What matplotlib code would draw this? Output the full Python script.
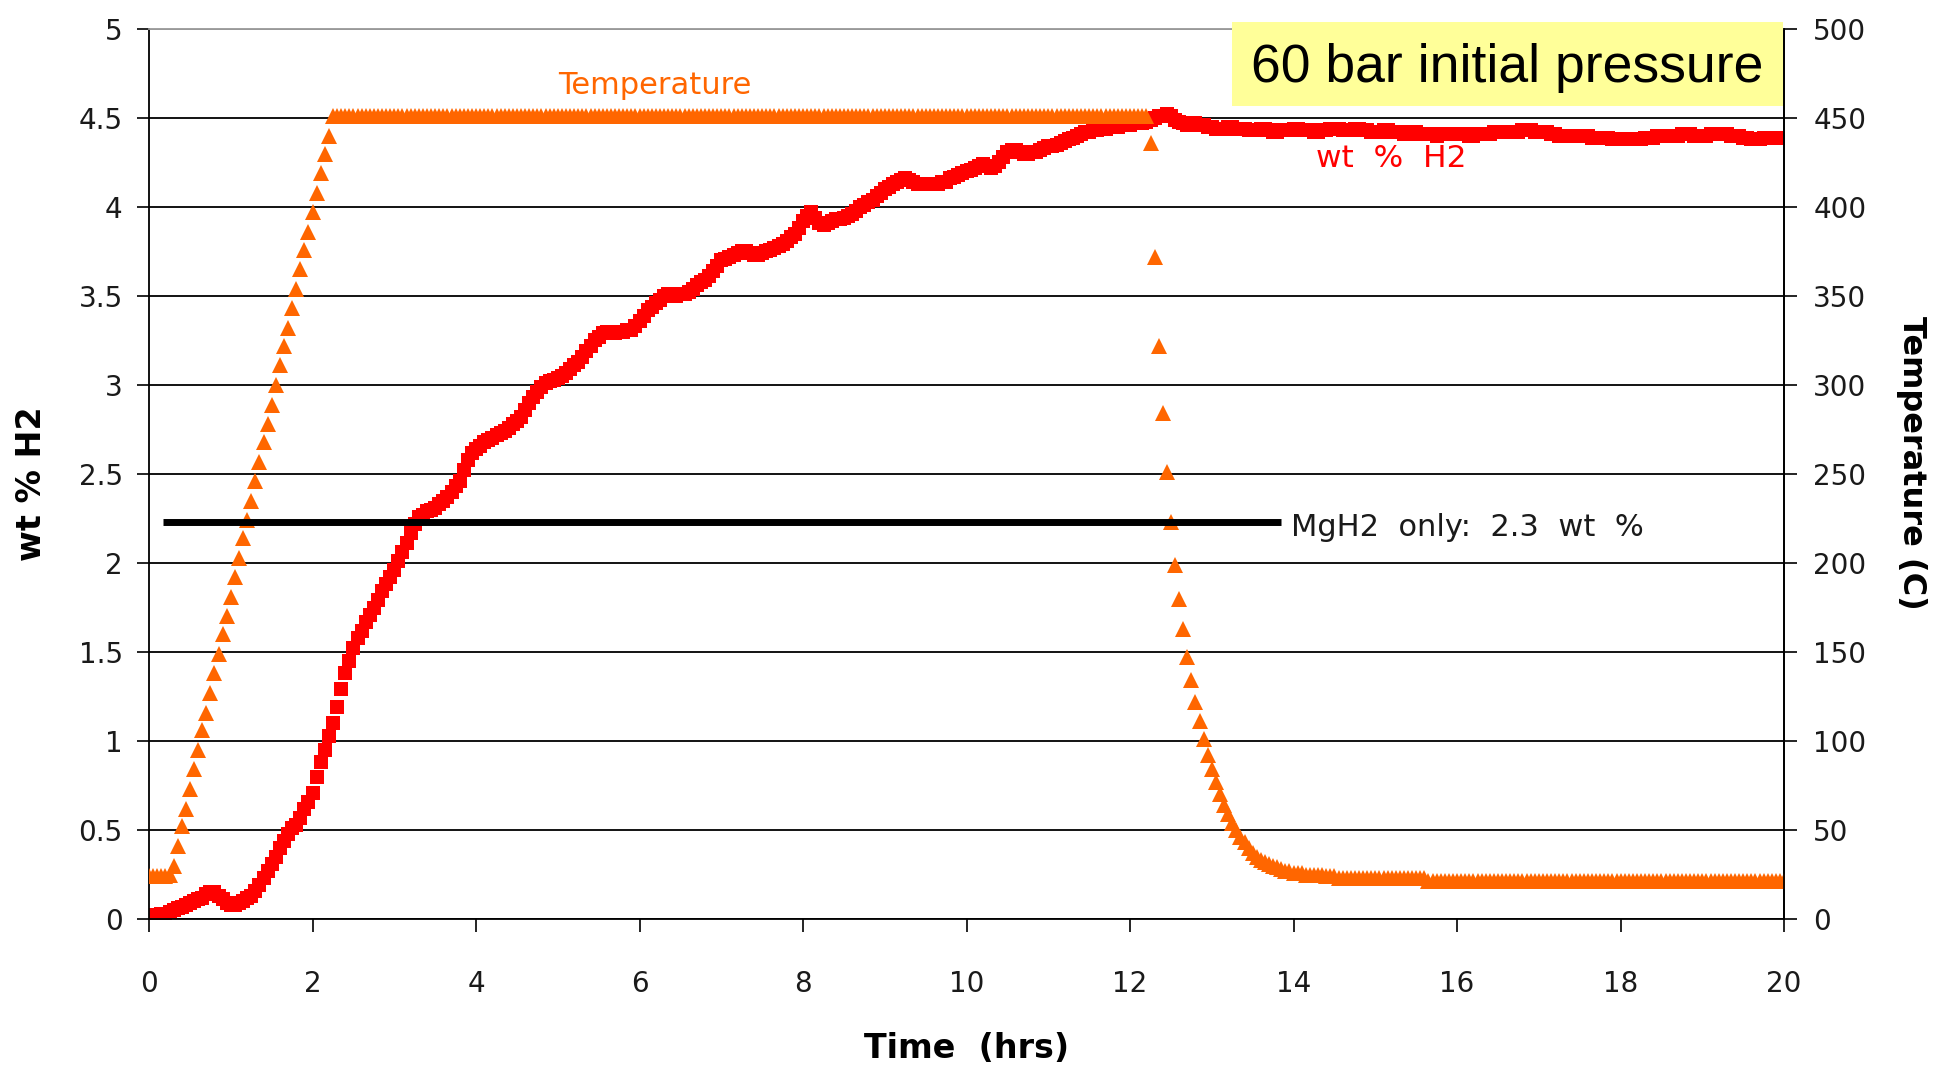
import matplotlib
matplotlib.use("Agg")
import matplotlib.pyplot as plt
from matplotlib.patches import Rectangle

# time axis: one reading every 0.05 hr (3 min), 0 .. 20 hr
time_hrs = [i * 0.05 for i in range(401)]

# wt % H2, one row per hour (20 readings), plus the final point at 20 hr
wt_h2 = [
    0.02, 0.02, 0.02, 0.03, 0.03, 0.04, 0.05, 0.06, 0.07, 0.08, 0.09, 0.10, 0.11, 0.12, 0.14, 0.15, 0.15, 0.13, 0.11, 0.09,
    0.08, 0.08, 0.09, 0.10, 0.12, 0.13, 0.16, 0.19, 0.23, 0.27, 0.31, 0.35, 0.40, 0.44, 0.48, 0.51, 0.53, 0.57, 0.62, 0.66,
    0.71, 0.80, 0.88, 0.95, 1.03, 1.10, 1.19, 1.29, 1.38, 1.45, 1.52, 1.58, 1.62, 1.67, 1.71, 1.75, 1.79, 1.84, 1.88, 1.92,
    1.96, 2.01, 2.06, 2.11, 2.17, 2.22, 2.26, 2.27, 2.29, 2.30, 2.31, 2.33, 2.35, 2.37, 2.40, 2.43, 2.46, 2.52, 2.58, 2.62,
    2.64, 2.66, 2.68, 2.69, 2.70, 2.72, 2.73, 2.74, 2.76, 2.78, 2.80, 2.82, 2.86, 2.90, 2.93, 2.96, 2.99, 3.01, 3.02, 3.03,
    3.04, 3.05, 3.07, 3.09, 3.11, 3.13, 3.16, 3.19, 3.22, 3.25, 3.27, 3.29, 3.30, 3.30, 3.29, 3.30, 3.30, 3.31, 3.31, 3.33,
    3.36, 3.39, 3.42, 3.44, 3.46, 3.48, 3.50, 3.51, 3.51, 3.50, 3.51, 3.51, 3.52, 3.54, 3.56, 3.58, 3.59, 3.61, 3.64, 3.67,
    3.70, 3.71, 3.72, 3.73, 3.74, 3.75, 3.75, 3.74, 3.73, 3.73, 3.74, 3.75, 3.76, 3.77, 3.78, 3.79, 3.81, 3.83, 3.85, 3.88,
    3.92, 3.95, 3.97, 3.94, 3.91, 3.90, 3.91, 3.92, 3.93, 3.93, 3.94, 3.95, 3.96, 3.98, 4.00, 4.01, 4.03, 4.04, 4.06, 4.08,
    4.10, 4.11, 4.13, 4.14, 4.15, 4.16, 4.15, 4.14, 4.13, 4.13, 4.13, 4.13, 4.13, 4.13, 4.14, 4.14, 4.16, 4.17, 4.18, 4.19,
    4.20, 4.21, 4.22, 4.23, 4.24, 4.23, 4.22, 4.23, 4.25, 4.28, 4.31, 4.32, 4.32, 4.31, 4.30, 4.30, 4.31, 4.31, 4.32, 4.33,
    4.34, 4.34, 4.35, 4.36, 4.37, 4.38, 4.39, 4.40, 4.41, 4.42, 4.42, 4.43, 4.43, 4.44, 4.44, 4.45, 4.45, 4.45, 4.46, 4.46,
    4.46, 4.47, 4.47, 4.47, 4.48, 4.49, 4.50, 4.51, 4.51, 4.52, 4.51, 4.49, 4.48, 4.47, 4.46, 4.47, 4.47, 4.46, 4.46, 4.45,
    4.45, 4.44, 4.44, 4.44, 4.45, 4.45, 4.44, 4.44, 4.44, 4.43, 4.43, 4.43, 4.44, 4.44, 4.43, 4.42, 4.42, 4.43, 4.43, 4.43,
    4.44, 4.44, 4.43, 4.43, 4.43, 4.42, 4.42, 4.43, 4.43, 4.44, 4.44, 4.44, 4.43, 4.43, 4.43, 4.44, 4.44, 4.43, 4.43, 4.42,
    4.42, 4.42, 4.43, 4.43, 4.42, 4.42, 4.42, 4.41, 4.41, 4.42, 4.42, 4.41, 4.41, 4.41, 4.41, 4.40, 4.41, 4.41, 4.41, 4.41,
    4.41, 4.41, 4.41, 4.40, 4.40, 4.41, 4.41, 4.41, 4.41, 4.42, 4.42, 4.42, 4.42, 4.42, 4.42, 4.42, 4.43, 4.43, 4.43, 4.42,
    4.42, 4.42, 4.42, 4.41, 4.41, 4.40, 4.40, 4.40, 4.40, 4.40, 4.40, 4.40, 4.40, 4.39, 4.39, 4.39, 4.39, 4.39, 4.38, 4.38,
    4.38, 4.38, 4.38, 4.38, 4.38, 4.38, 4.39, 4.39, 4.39, 4.40, 4.40, 4.40, 4.40, 4.40, 4.40, 4.41, 4.41, 4.41, 4.40, 4.40,
    4.40, 4.40, 4.41, 4.41, 4.41, 4.41, 4.41, 4.40, 4.40, 4.40, 4.39, 4.39, 4.38, 4.38, 4.38, 4.39, 4.39, 4.39, 4.39, 4.39,
    4.39,
]

# temperature (C), same sampling
temp_c = [
    24, 24, 24, 24, 24, 25, 30, 41, 52, 62, 73, 84, 95, 106, 116, 127, 138, 149, 160, 170,
    181, 192, 203, 214, 224, 235, 246, 257, 268, 278, 289, 300, 311, 322, 332, 343, 354, 365, 376, 386,
    397, 408, 419, 430, 440, 451, 451, 451, 451, 451, 451, 451, 451, 451, 451, 451, 451, 451, 451, 451,
    451, 451, 451, 451, 451, 451, 451, 451, 451, 451, 451, 451, 451, 451, 451, 451, 451, 451, 451, 451,
    451, 451, 451, 451, 451, 451, 451, 451, 451, 451, 451, 451, 451, 451, 451, 451, 451, 451, 451, 451,
    451, 451, 451, 451, 451, 451, 451, 451, 451, 451, 451, 451, 451, 451, 451, 451, 451, 451, 451, 451,
    451, 451, 451, 451, 451, 451, 451, 451, 451, 451, 451, 451, 451, 451, 451, 451, 451, 451, 451, 451,
    451, 451, 451, 451, 451, 451, 451, 451, 451, 451, 451, 451, 451, 451, 451, 451, 451, 451, 451, 451,
    451, 451, 451, 451, 451, 451, 451, 451, 451, 451, 451, 451, 451, 451, 451, 451, 451, 451, 451, 451,
    451, 451, 451, 451, 451, 451, 451, 451, 451, 451, 451, 451, 451, 451, 451, 451, 451, 451, 451, 451,
    451, 451, 451, 451, 451, 451, 451, 451, 451, 451, 451, 451, 451, 451, 451, 451, 451, 451, 451, 451,
    451, 451, 451, 451, 451, 451, 451, 451, 451, 451, 451, 451, 451, 451, 451, 451, 451, 451, 451, 451,
    451, 451, 451, 451, 451, 436, 372, 322, 284, 251, 223, 199, 180, 163, 147, 134, 122, 111, 101, 92,
    84, 77, 70, 64, 59, 54, 50, 46, 43, 40, 37, 35, 33, 32, 31, 30, 29, 28, 27, 27,
    26, 26, 26, 25, 25, 25, 25, 25, 24, 24, 24, 23, 23, 23, 23, 23, 23, 23, 23, 23,
    23, 23, 23, 23, 23, 23, 23, 23, 23, 23, 23, 23, 23, 21.5, 21.5, 21.5, 21.5, 21.5, 21.5, 21.5,
    21.5, 21.5, 21.5, 21.5, 21.5, 21.5, 21.5, 21.5, 21.5, 21.5, 21.5, 21.5, 21.5, 21.5, 21.5, 21.5, 21.5, 21.5, 21.5, 21.5,
    21.5, 21.5, 21.5, 21.5, 21.5, 21.5, 21.5, 21.5, 21.5, 21.5, 21.5, 21.5, 21.5, 21.5, 21.5, 21.5, 21.5, 21.5, 21.5, 21.5,
    21.5, 21.5, 21.5, 21.5, 21.5, 21.5, 21.5, 21.5, 21.5, 21.5, 21.5, 21.5, 21.5, 21.5, 21.5, 21.5, 21.5, 21.5, 21.5, 21.5,
    21.5, 21.5, 21.5, 21.5, 21.5, 21.5, 21.5, 21.5, 21.5, 21.5, 21.5, 21.5, 21.5, 21.5, 21.5, 21.5, 21.5, 21.5, 21.5, 21.5,
    21.5,
]

# MgH2-only reference line
ref_x = [0.17, 13.85]
ref_y = [2.23, 2.23]

x_ticks = [0, 2, 4, 6, 8, 10, 12, 14, 16, 18, 20]
wt_ticks = [0, 0.5, 1, 1.5, 2, 2.5, 3, 3.5, 4, 4.5, 5]
wt_labels = ["0", "0.5", "1", "1.5", "2", "2.5", "3", "3.5", "4", "4.5", "5"]
temp_ticks = [0, 50, 100, 150, 200, 250, 300, 350, 400, 450, 500]

plt.rcParams["font.family"] = "DejaVu Sans"

fig = plt.figure(figsize=(19.46, 10.69), dpi=100)
ax = fig.add_axes([0.0766, 0.1403, 0.8402, 0.8326])
ax2 = ax.twinx()

# wt % H2 (red squares)
ax.plot(time_hrs, wt_h2, linestyle="none", marker="s", markersize=10,
        color="#ff0000", markeredgewidth=0)

# temperature (orange triangles) on right axis
ax2.plot(time_hrs, temp_c, linestyle="none", marker="^", markersize=11,
         color="#ff6600", markeredgewidth=0)

# black reference line drawn above everything
ax2.plot(ref_x, ref_y, color="black", linewidth=5, solid_capstyle="butt",
         transform=ax.transData)

ax.set_xlim(0, 20)
ax.set_ylim(0, 5)
ax2.set_ylim(0, 500)

ax.set_xticks(x_ticks)
ax.set_xticklabels([str(v) for v in x_ticks])
ax.set_yticks(wt_ticks)
ax.set_yticklabels(wt_labels)
ax2.set_yticks(temp_ticks)
ax2.set_yticklabels([str(v) for v in temp_ticks])

ax.grid(axis="y", color="black", linewidth=1.3)
ax.grid(axis="x", visible=False)
ax.yaxis.get_gridlines()[-1].set_color("#999999")
ax.set_axisbelow(True)

for a in (ax, ax2):
    for s in a.spines.values():
        s.set_linewidth(1.3)
ax.spines["top"].set_color("#999999")
ax2.spines["top"].set_visible(False)
ax2.spines["left"].set_visible(False)
ax2.spines["bottom"].set_visible(False)

ax.tick_params(axis="x", direction="out", length=9, width=1.2, pad=28,
               labelsize=20, labelcolor="#1a1a1a")
ax.tick_params(axis="y", direction="out", length=9, width=1.2, pad=10,
               labelsize=20, labelcolor="#1a1a1a")
ax2.tick_params(axis="y", direction="out", length=9, width=1.2, pad=12,
                labelsize=20, labelcolor="#1a1a1a")

ax.set_xlabel("Time  (hrs)", fontsize=24, fontweight="bold", va="center")
ax.xaxis.set_label_coords(0.5, -0.146)
ax.set_ylabel("wt % H2", fontsize=24, fontweight="bold", va="center")
ax.yaxis.set_label_coords(-0.072, 0.489)
ax2.set_ylabel("Temperature (C)", fontsize=23, fontweight="bold", rotation=270,
               va="center")
ax2.yaxis.set_label_coords(1.078, 0.513)

# series labels
ax.text(6.19, 4.68, "Temperature", color="#ff6600", fontsize=22,
        ha="center", va="center")
ax.text(15.2, 4.27, "wt  %  H2", color="#ff0000", fontsize=22.5,
        ha="center", va="center")
ax.text(13.97, 2.20, "MgH2  only:  2.3  wt  %", color="#1a1a1a", fontsize=22,
        ha="left", va="center")

# yellow note box
ax2.add_patch(Rectangle((0.6624, 0.9135), 0.337, 0.0944, transform=ax.transAxes,
                        facecolor="#ffff99", edgecolor="none", clip_on=False,
                        zorder=5))
ax2.text(0.8306, 0.956, "60 bar initial pressure", transform=ax.transAxes,
         fontsize=38.5, family="Liberation Sans", ha="center", va="center",
         zorder=6)

fig.savefig("out.png", dpi=100)
